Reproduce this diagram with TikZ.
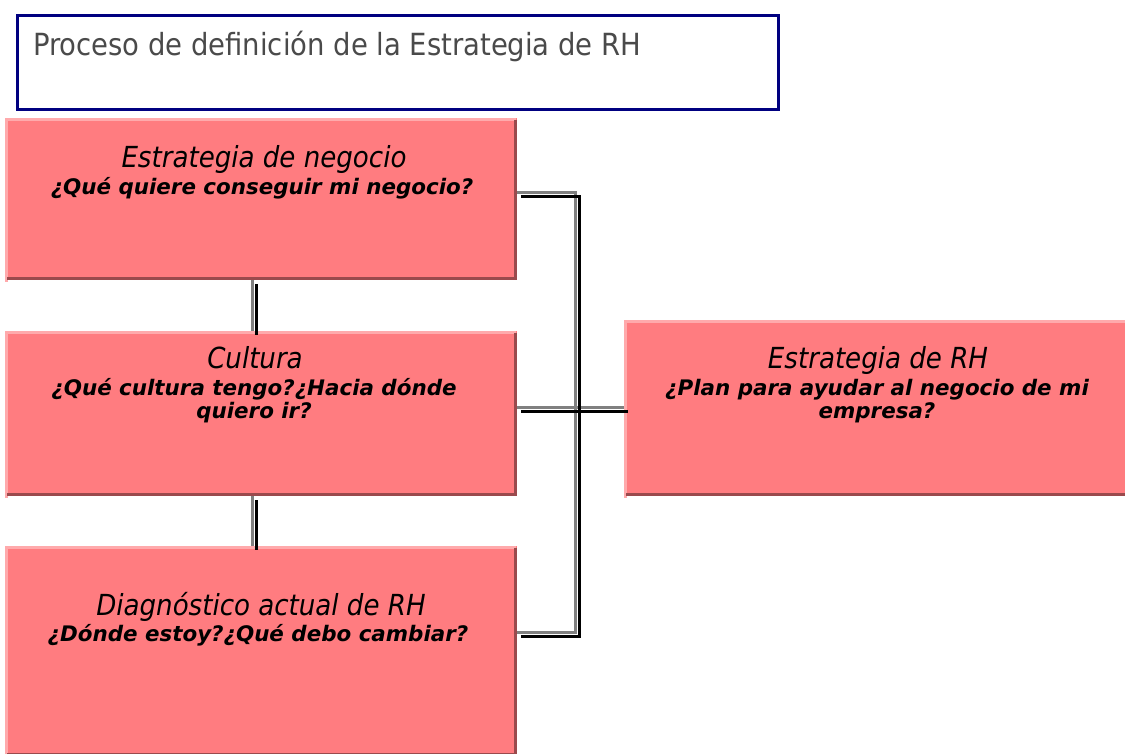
\documentclass[tikz,border=0pt]{standalone}
\usepackage{fontspec}
\setmainfont{DejaVu Sans}
\newfontfamily\tah{DejaVu Sans Condensed}
\newfontfamily\verd{DejaVu Sans}
\definecolor{boxfill}{HTML}{FF7C80}
\definecolor{boxlight}{HTML}{FFAAAC}
\definecolor{boxdark}{HTML}{9A4A4D}
\definecolor{navyline}{HTML}{000080}
\definecolor{titlegray}{HTML}{4A4A4A}
\definecolor{conngray}{HTML}{808080}
\tikzset{
  x=1pt, y=-1pt,
  pinkbox/.style={fill=boxfill, draw=none, inner sep=0pt, outer sep=0pt},
  hdr/.style={anchor=base, inner sep=0pt, font=\tah\itshape\fontsize{29}{34}\selectfont},
  qst/.style={anchor=base, inner sep=0pt, align=center, font=\verd\bfseries\itshape\fontsize{21.4}{23}\selectfont},
  connA/.style={draw=conngray, line width=3pt},
  connB/.style={draw=black, line width=3pt},
}
\newcommand{\bevel}[1]{%
  \draw[boxlight, line width=3pt] ([xshift=1.5pt,yshift=-1.5pt]#1.south west) |- ([xshift=-1.5pt,yshift=-1.5pt]#1.north east);
  \draw[boxdark, line width=3pt] ([xshift=-1.5pt,yshift=-1.5pt]#1.north east) |- ([xshift=1.5pt,yshift=1.5pt]#1.south west);
}
\begin{document}
\begin{tikzpicture}
\useasboundingbox (0,0) rectangle (1125,753);
\fill[white] (0,0) rectangle (1125,753);
% title box
\node[draw=navyline, line width=2.5pt, minimum width=761pt, minimum height=94pt, inner sep=0pt, anchor=north west] (title) at (16.25,14.25) {};
\node[anchor=base west, inner sep=0pt, text=titlegray, font=\tah\fontsize{30.5}{36}\selectfont] (titletext) at (33,55) {Proceso de definición de la Estrategia de RH};
% boxes
\node[pinkbox, minimum width=512pt, minimum height=162pt, anchor=north west] (b1) at (5,118) {};
\node[pinkbox, minimum width=512pt, minimum height=165pt, anchor=north west] (b2) at (5,331) {};
\node[pinkbox, minimum width=512pt, minimum height=210pt, anchor=north west] (b3) at (5,546) {};
\node[pinkbox, minimum width=505pt, minimum height=176pt, anchor=north west] (b4) at (624,320) {};
\bevel{b1}\bevel{b2}\bevel{b3}\bevel{b4}
% texts
\node[hdr] (h1) at (264,167) {Estrategia de negocio};
\node[qst] (q1) at (262,194) {¿Qué quiere conseguir mi negocio?};
\node[hdr] (h2) at (255,368) {Cultura};
\node[qst] (q2) at (254,418) {¿Qué cultura tengo?¿Hacia dónde\\quiero ir?};
\node[hdr] (h3) at (261,615) {Diagnóstico actual de RH};
\node[qst] (q3) at (258,641) {¿Dónde estoy?¿Qué debo cambiar?};
\node[hdr] (h4) at (878,368) {Estrategia de RH};
\node[qst] (q4) at (877,418) {¿Plan para ayudar al negocio de mi\\empresa?};
% connectors
\coordinate (trunk) at (575,0);
\foreach \s/\c in {0/connA, 4/connB} {
  \draw[\c] ([xshift=\s pt, yshift=-\s pt]b1.south -| 252.5,0) -- ([xshift=\s pt, yshift=-\s pt]b2.north -| 252.5,0);
  \draw[\c] ([xshift=\s pt, yshift=-\s pt]b2.south -| 252.5,0) -- ([xshift=\s pt, yshift=-\s pt]b3.north -| 252.5,0);
  \draw[\c] ([xshift=\s pt, yshift=-\s pt, yshift=7pt]b1.east) -| ([xshift=\s pt, yshift=-\s pt]trunk |- 0,632.5) -- ([xshift=\s pt, yshift=-\s pt]b3.east |- 0,632.5);
  \draw[\c] ([xshift=\s pt, yshift=-\s pt]b2.east |- 0,407) -- ([xshift=\s pt, yshift=-\s pt]b4.west |- 0,407);
}
\end{tikzpicture}
\end{document}
